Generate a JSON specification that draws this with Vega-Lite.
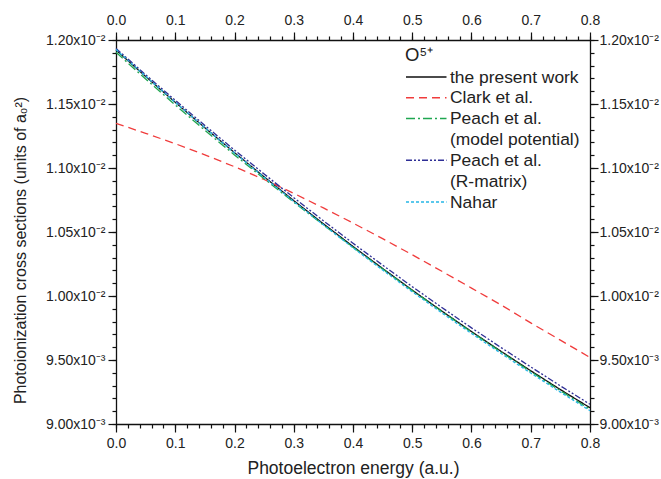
{
  "$schema": "https://vega.github.io/schema/vega-lite/v6.json",
  "width": 474,
  "height": 384,
  "autosize": {"type": "none"},
  "padding": {"left": 116, "top": 40, "right": 71, "bottom": 55},
  "background": "white",
  "config": {
    "view": {"stroke": null},
    "font": "Liberation Sans",
    "axis": {"grid": false, "labelFlush": false, "domainColor": "#111", "tickColor": "#111", "labelColor": "#222", "titleColor": "#222", "labelFont": "Liberation Sans", "titleFont": "Liberation Sans", "labelFontSize": 14, "titleFontSize": 16, "titleFontWeight": "normal", "domainWidth": 1.3, "tickWidth": 1.2}
  },
  "data": {"values": [
    {"E": 0.00, "sigma": 0.011922, "series": "the present work"},
    {"E": 0.05, "sigma": 0.011715, "series": "the present work"},
    {"E": 0.10, "sigma": 0.011513, "series": "the present work"},
    {"E": 0.15, "sigma": 0.011314, "series": "the present work"},
    {"E": 0.20, "sigma": 0.011120, "series": "the present work"},
    {"E": 0.25, "sigma": 0.010931, "series": "the present work"},
    {"E": 0.30, "sigma": 0.010745, "series": "the present work"},
    {"E": 0.35, "sigma": 0.010564, "series": "the present work"},
    {"E": 0.40, "sigma": 0.010387, "series": "the present work"},
    {"E": 0.45, "sigma": 0.010215, "series": "the present work"},
    {"E": 0.50, "sigma": 0.010046, "series": "the present work"},
    {"E": 0.55, "sigma": 0.009882, "series": "the present work"},
    {"E": 0.60, "sigma": 0.009722, "series": "the present work"},
    {"E": 0.65, "sigma": 0.009567, "series": "the present work"},
    {"E": 0.70, "sigma": 0.009416, "series": "the present work"},
    {"E": 0.75, "sigma": 0.009269, "series": "the present work"},
    {"E": 0.80, "sigma": 0.009127, "series": "the present work"},
    {"E": 0.00, "sigma": 0.011349, "series": "Clark et al."},
    {"E": 0.05, "sigma": 0.011271, "series": "Clark et al."},
    {"E": 0.10, "sigma": 0.011190, "series": "Clark et al."},
    {"E": 0.15, "sigma": 0.011103, "series": "Clark et al."},
    {"E": 0.20, "sigma": 0.011010, "series": "Clark et al."},
    {"E": 0.25, "sigma": 0.010910, "series": "Clark et al."},
    {"E": 0.30, "sigma": 0.010802, "series": "Clark et al."},
    {"E": 0.35, "sigma": 0.010688, "series": "Clark et al."},
    {"E": 0.40, "sigma": 0.010570, "series": "Clark et al."},
    {"E": 0.45, "sigma": 0.010448, "series": "Clark et al."},
    {"E": 0.50, "sigma": 0.010322, "series": "Clark et al."},
    {"E": 0.55, "sigma": 0.010193, "series": "Clark et al."},
    {"E": 0.60, "sigma": 0.010062, "series": "Clark et al."},
    {"E": 0.65, "sigma": 0.009930, "series": "Clark et al."},
    {"E": 0.70, "sigma": 0.009790, "series": "Clark et al."},
    {"E": 0.75, "sigma": 0.009655, "series": "Clark et al."},
    {"E": 0.80, "sigma": 0.009520, "series": "Clark et al."},
    {"E": 0.00, "sigma": 0.011904, "series": "Peach et al. (model potential)"},
    {"E": 0.05, "sigma": 0.011695, "series": "Peach et al. (model potential)"},
    {"E": 0.10, "sigma": 0.011493, "series": "Peach et al. (model potential)"},
    {"E": 0.15, "sigma": 0.011294, "series": "Peach et al. (model potential)"},
    {"E": 0.20, "sigma": 0.011102, "series": "Peach et al. (model potential)"},
    {"E": 0.25, "sigma": 0.010916, "series": "Peach et al. (model potential)"},
    {"E": 0.30, "sigma": 0.010733, "series": "Peach et al. (model potential)"},
    {"E": 0.35, "sigma": 0.010555, "series": "Peach et al. (model potential)"},
    {"E": 0.40, "sigma": 0.010381, "series": "Peach et al. (model potential)"},
    {"E": 0.45, "sigma": 0.010211, "series": "Peach et al. (model potential)"},
    {"E": 0.50, "sigma": 0.010043, "series": "Peach et al. (model potential)"},
    {"E": 0.55, "sigma": 0.009879, "series": "Peach et al. (model potential)"},
    {"E": 0.60, "sigma": 0.009718, "series": "Peach et al. (model potential)"},
    {"E": 0.65, "sigma": 0.009562, "series": "Peach et al. (model potential)"},
    {"E": 0.70, "sigma": 0.009409, "series": "Peach et al. (model potential)"},
    {"E": 0.75, "sigma": 0.009260, "series": "Peach et al. (model potential)"},
    {"E": 0.80, "sigma": 0.009115, "series": "Peach et al. (model potential)"},
    {"E": 0.00, "sigma": 0.011934, "series": "Peach et al. (R-matrix)"},
    {"E": 0.05, "sigma": 0.011729, "series": "Peach et al. (R-matrix)"},
    {"E": 0.10, "sigma": 0.011529, "series": "Peach et al. (R-matrix)"},
    {"E": 0.15, "sigma": 0.011332, "series": "Peach et al. (R-matrix)"},
    {"E": 0.20, "sigma": 0.011140, "series": "Peach et al. (R-matrix)"},
    {"E": 0.25, "sigma": 0.010953, "series": "Peach et al. (R-matrix)"},
    {"E": 0.30, "sigma": 0.010768, "series": "Peach et al. (R-matrix)"},
    {"E": 0.35, "sigma": 0.010588, "series": "Peach et al. (R-matrix)"},
    {"E": 0.40, "sigma": 0.010412, "series": "Peach et al. (R-matrix)"},
    {"E": 0.45, "sigma": 0.010241, "series": "Peach et al. (R-matrix)"},
    {"E": 0.50, "sigma": 0.010073, "series": "Peach et al. (R-matrix)"},
    {"E": 0.55, "sigma": 0.009910, "series": "Peach et al. (R-matrix)"},
    {"E": 0.60, "sigma": 0.009751, "series": "Peach et al. (R-matrix)"},
    {"E": 0.65, "sigma": 0.009597, "series": "Peach et al. (R-matrix)"},
    {"E": 0.70, "sigma": 0.009446, "series": "Peach et al. (R-matrix)"},
    {"E": 0.75, "sigma": 0.009298, "series": "Peach et al. (R-matrix)"},
    {"E": 0.80, "sigma": 0.009154, "series": "Peach et al. (R-matrix)"},
    {"E": 0.00, "sigma": 0.011925, "series": "Nahar"},
    {"E": 0.05, "sigma": 0.011717, "series": "Nahar"},
    {"E": 0.10, "sigma": 0.011513, "series": "Nahar"},
    {"E": 0.15, "sigma": 0.011314, "series": "Nahar"},
    {"E": 0.20, "sigma": 0.011118, "series": "Nahar"},
    {"E": 0.25, "sigma": 0.010927, "series": "Nahar"},
    {"E": 0.30, "sigma": 0.010739, "series": "Nahar"},
    {"E": 0.35, "sigma": 0.010556, "series": "Nahar"},
    {"E": 0.40, "sigma": 0.010377, "series": "Nahar"},
    {"E": 0.45, "sigma": 0.010203, "series": "Nahar"},
    {"E": 0.50, "sigma": 0.010033, "series": "Nahar"},
    {"E": 0.55, "sigma": 0.009868, "series": "Nahar"},
    {"E": 0.60, "sigma": 0.009707, "series": "Nahar"},
    {"E": 0.65, "sigma": 0.009551, "series": "Nahar"},
    {"E": 0.70, "sigma": 0.009398, "series": "Nahar"},
    {"E": 0.75, "sigma": 0.009249, "series": "Nahar"},
    {"E": 0.80, "sigma": 0.009104, "series": "Nahar"}
  ]},
  "layer": [
    {
      "mark": {"type": "line", "opacity": 0},
      "encoding": {
        "x": {"field": "E", "type": "quantitative", "scale": {"domain": [0, 0.8], "nice": false, "zero": false},
          "axis": {"orient": "bottom", "title": null, "labels": false, "domain": false, "tickSize": 4,
            "values": [0,0.02,0.04,0.06,0.08,0.1,0.12,0.14,0.16,0.18,0.2,0.22,0.24,0.26,0.28,0.3,0.32,0.34,0.36,0.38,0.4,0.42,0.44,0.46,0.48,0.5,0.52,0.54,0.56,0.58,0.6,0.62,0.64,0.66,0.68,0.7,0.72,0.74,0.76,0.78,0.8]}},
        "y": {"field": "sigma", "type": "quantitative", "scale": {"domain": [0.009, 0.012], "nice": false, "zero": false},
          "axis": {"orient": "left", "title": null, "labels": false, "domain": false, "tickSize": 4,
            "values": [0.009,0.0091,0.0092,0.0093,0.0094,0.0095,0.0096,0.0097,0.0098,0.0099,0.01,0.0101,0.0102,0.0103,0.0104,0.0105,0.0106,0.0107,0.0108,0.0109,0.011,0.0111,0.0112,0.0113,0.0114,0.0115,0.0116,0.0117,0.0118,0.0119,0.012]}}
      }
    },
    {
      "mark": {"type": "line", "opacity": 0},
      "encoding": {
        "x": {"field": "E", "type": "quantitative", "scale": {"domain": [0, 0.8], "nice": false, "zero": false},
          "axis": {"orient": "top", "title": null, "labels": false, "domain": false, "tickSize": 4,
            "values": [0,0.02,0.04,0.06,0.08,0.1,0.12,0.14,0.16,0.18,0.2,0.22,0.24,0.26,0.28,0.3,0.32,0.34,0.36,0.38,0.4,0.42,0.44,0.46,0.48,0.5,0.52,0.54,0.56,0.58,0.6,0.62,0.64,0.66,0.68,0.7,0.72,0.74,0.76,0.78,0.8]}},
        "y": {"field": "sigma", "type": "quantitative", "scale": {"domain": [0.009, 0.012], "nice": false, "zero": false},
          "axis": {"orient": "right", "title": null, "labels": false, "domain": false, "tickSize": 4,
            "values": [0.009,0.0091,0.0092,0.0093,0.0094,0.0095,0.0096,0.0097,0.0098,0.0099,0.01,0.0101,0.0102,0.0103,0.0104,0.0105,0.0106,0.0107,0.0108,0.0109,0.011,0.0111,0.0112,0.0113,0.0114,0.0115,0.0116,0.0117,0.0118,0.0119,0.012]}}
      }
    },
    {
      "mark": {"type": "line", "opacity": 0},
      "encoding": {
        "x": {"field": "E", "type": "quantitative", "scale": {"domain": [0, 0.8], "nice": false, "zero": false},
          "axis": {"orient": "top", "title": null, "format": ".1f", "tickSize": 8, "labelPadding": 5,
            "values": [0,0.1,0.2,0.3,0.4,0.5,0.6,0.7,0.8]}},
        "y": {"field": "sigma", "type": "quantitative", "scale": {"domain": [0.009, 0.012], "nice": false, "zero": false},
          "axis": {"orient": "right", "title": null, "tickSize": 8, "labelPadding": 1,
            "values": [0.009,0.0095,0.01,0.0105,0.011,0.0115,0.012],
            "labelExpr": "datum.value < 0.00999 ? format(datum.value*1000, '.2f') + 'x10⁻³' : format(datum.value*100, '.2f') + 'x10⁻²'"}}
      }
    },
    {
      "mark": {"type": "line", "strokeWidth": 1.3},
      "encoding": {
        "x": {"field": "E", "type": "quantitative", "scale": {"domain": [0, 0.8], "nice": false, "zero": false},
          "axis": {"orient": "bottom", "title": "Photoelectron energy (a.u.)", "format": ".1f", "tickSize": 8, "labelPadding": 4,
            "titleY": 44, "titleBaseline": "middle", "titleFontSize": 17.5,
            "values": [0,0.1,0.2,0.3,0.4,0.5,0.6,0.7,0.8]}},
        "y": {"field": "sigma", "type": "quantitative", "scale": {"domain": [0.009, 0.012], "nice": false, "zero": false},
          "axis": {"orient": "left", "title": "Photoionization cross sections (units of a₀²)", "tickSize": 8, "labelPadding": 3,
            "titleX": -96, "titleY": 210, "titleAngle": -90, "titleBaseline": "middle", "titleAlign": "center",
            "values": [0.009,0.0095,0.01,0.0105,0.011,0.0115,0.012],
            "labelExpr": "datum.value < 0.00999 ? format(datum.value*1000, '.2f') + 'x10⁻³' : format(datum.value*100, '.2f') + 'x10⁻²'"}},
        "color": {"field": "series", "type": "nominal",
          "scale": {"domain": ["the present work", "Clark et al.", "Peach et al. (model potential)", "Peach et al. (R-matrix)", "Nahar"],
                    "range": ["#111111", "#f03c3c", "#1fa650", "#2e2e96", "#26b6e6"]},
          "legend": {"title": "O⁵⁺", "orient": "none", "legendX": 289, "legendY": 6,
            "titleFontSize": 18.5, "titleFontWeight": "normal", "titleColor": "#222", "titlePadding": 2.5,
            "labelFontSize": 17.4, "labelColor": "#222", "labelLimit": 300, "rowPadding": 1.75, "labelOffset": 25,
            "labelBaseline": "top",
            "symbolType": "M-1,0H3.5", "symbolSize": 324, "symbolStrokeWidth": 1.3,
            "encode": {"labels": {"update": {"dy": {"value": -8.5}, "lineHeight": {"value": 21}}}},
            "labelExpr": "datum.label == 'Peach et al. (model potential)' ? ['Peach et al.', '\u00a0(model potential)'] : datum.label == 'Peach et al. (R-matrix)' ? ['Peach et al.', '\u00a0(R-matrix)'] : datum.label"}},
        "strokeDash": {"field": "series", "type": "nominal",
          "scale": {"domain": ["the present work", "Clark et al.", "Peach et al. (model potential)", "Peach et al. (R-matrix)", "Nahar"],
                    "range": [[1, 0], [8, 5], [9, 3, 2, 3], [6, 2, 2, 2, 2, 2], [3, 2]]},
          "legend": {"title": "O⁵⁺", "orient": "none", "legendX": 289, "legendY": 6,
            "titleFontSize": 18.5, "titleFontWeight": "normal", "titleColor": "#222", "titlePadding": 2.5,
            "labelFontSize": 17.4, "labelColor": "#222", "labelLimit": 300, "rowPadding": 1.75, "labelOffset": 25,
            "labelBaseline": "top",
            "symbolType": "M-1,0H3.5", "symbolSize": 324, "symbolStrokeWidth": 1.3,
            "encode": {"labels": {"update": {"dy": {"value": -8.5}, "lineHeight": {"value": 21}}}},
            "labelExpr": "datum.label == 'Peach et al. (model potential)' ? ['Peach et al.', '\u00a0(model potential)'] : datum.label == 'Peach et al. (R-matrix)' ? ['Peach et al.', '\u00a0(R-matrix)'] : datum.label"}}
      }
    }
  ],
  "resolve": {"axis": {"x": "independent", "y": "independent"}}
}
